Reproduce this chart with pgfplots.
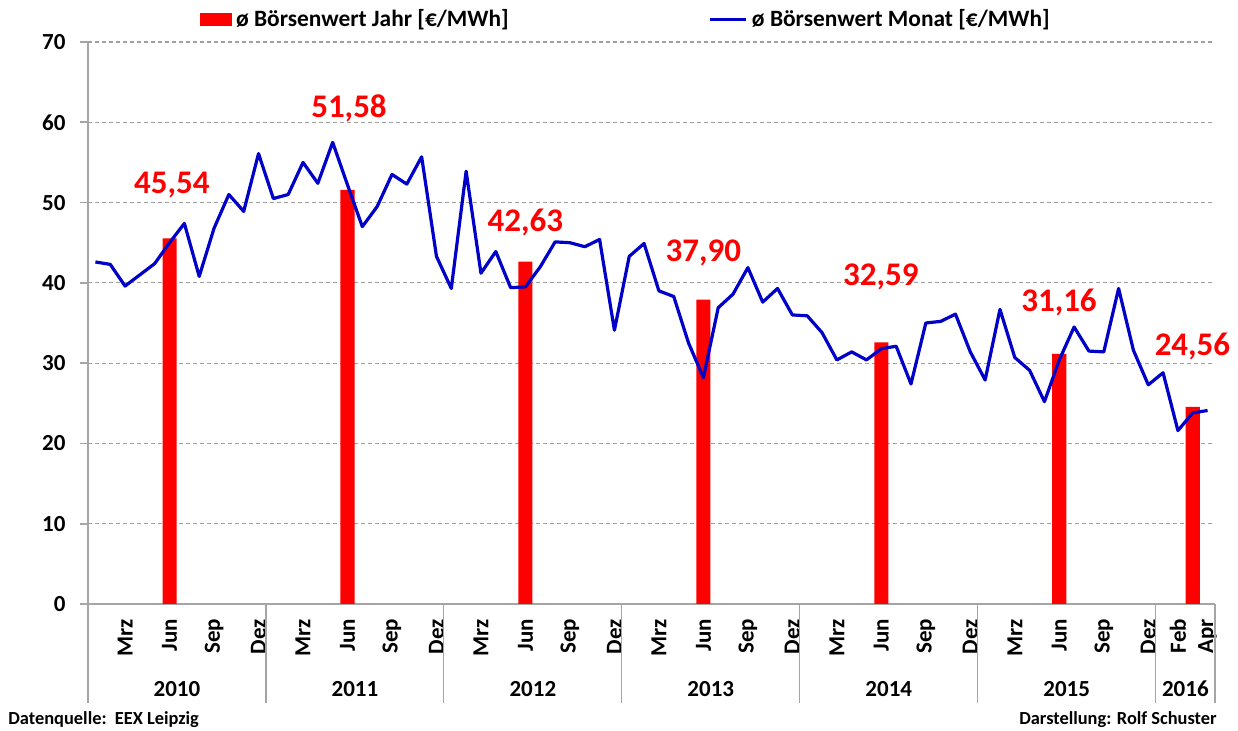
\documentclass[border=0pt]{standalone}
\usepackage{fontspec}
\setmainfont{Carlito}
\usepackage{pgfplots}
\pgfplotsset{compat=1.18}
\definecolor{lineblue}{RGB}{0,0,200}
\definecolor{barred}{RGB}{255,0,0}
\definecolor{gridgray}{RGB}{160,160,160}
\definecolor{axisgray}{RGB}{165,165,165}
\begin{document}
\begin{tikzpicture}
\path (-44pt,-63.5pt) rectangle (575pt,302pt);
\begin{axis}[
  at={(0,0)}, anchor=south west,
  scale only axis, width=563.5pt, height=281pt,
  xmin=-0.5, xmax=75.5, ymin=0, ymax=70,
  clip=false,
  axis x line*=bottom, axis y line*=left,
  axis line style={axisgray, line width=0.8pt},
  ytick={0,10,...,70},
  ymajorgrids,
  major grid style={gridgray, dash pattern=on 2pt off 1.5pt, line width=0.6pt},
  tick align=outside, major tick length=4pt,
  ytick style={axisgray, line width=0.8pt},
  xtick style={draw=none},
  /pgf/number format/assume math mode=true,
  yticklabel style={font=\fontsize{11.5}{12}\selectfont\bfseries, xshift=-3.7pt},
  xtick={2,5,8,11,14,17,20,23,26,29,32,35,38,41,44,47,50,53,56,59,62,65,68,71,73,75},
  xticklabels={Mrz,Jun,Sep,Dez,Mrz,Jun,Sep,Dez,Mrz,Jun,Sep,Dez,Mrz,Jun,Sep,Dez,Mrz,Jun,Sep,Dez,Mrz,Jun,Sep,Dez,Feb,Apr},
  xticklabel style={rotate=90, anchor=east, font=\fontsize{11.5}{12}\selectfont\bfseries},
  extra x ticks={-0.5,11.5,23.5,35.5,47.5,59.5,71.5,75.5},
  extra x tick labels={},
  extra x tick style={major tick length=49.5pt, xtick style={draw=axisgray, line width=0.6pt}},
  legend columns=2,
  legend style={at={(0.0994,1.0399)}, anchor=west, draw=none, fill=none, inner sep=0pt,
    font=\fontsize{11.7}{13}\selectfont\bfseries,
    /tikz/every even column/.append style={column sep=98pt}},
  legend cell align=left,
]
\addplot[ybar, bar width=0.95, fill=barred, draw=none,
  legend image code/.code={\fill[barred] (0pt,-3.2pt) rectangle (15.8pt,3.2pt);}]
  coordinates {(5,45.54) (17,51.58) (29,42.63) (41,37.90) (53,32.59) (65,31.16) (74,24.56)};
\addlegendentry{ø Börsenwert Jahr [€/MWh]}
\addplot[lineblue, line width=1.6pt, mark=none, line join=round,
  legend image code/.code={\draw[lineblue, line width=1.6pt] (0pt,0pt) -- (18pt,0pt);}]
  coordinates {
  (0,42.6) (1,42.3) (2,39.6) (3,41.0) (4,42.4) (5,45.0) (6,47.4) (7,40.8) (8,46.8) (9,51.0) (10,48.9) (11,56.1)
  (12,50.5) (13,51.0) (14,55.0) (15,52.4) (16,57.5) (17,52.2) (18,47.0) (19,49.5) (20,53.5) (21,52.3) (22,55.7) (23,43.3)
  (24,39.3) (25,53.9) (26,41.2) (27,43.9) (28,39.4) (29,39.5) (30,42.0) (31,45.1) (32,45.0) (33,44.5) (34,45.4) (35,34.1)
  (36,43.3) (37,44.9) (38,39.0) (39,38.3) (40,32.5) (41,28.2) (42,36.9) (43,38.6) (44,41.9) (45,37.6) (46,39.3) (47,36.0)
  (48,35.9) (49,33.8) (50,30.4) (51,31.4) (52,30.4) (53,31.8) (54,32.1) (55,27.4) (56,35.0) (57,35.2) (58,36.1) (59,31.4)
  (60,27.9) (61,36.7) (62,30.7) (63,29.1) (64,25.2) (65,30.4) (66,34.5) (67,31.5) (68,31.4) (69,39.3) (70,31.6) (71,27.3)
  (72,28.8) (73,21.6) (74,23.8) (75,24.1)
  };
\addlegendentry{ø Börsenwert Monat [€/MWh]}
\begin{scope}[every node/.style={anchor=base, text=barred, font=\fontsize{16.5}{18}\selectfont\bfseries}]
\node at (axis cs:5.16,51.1) {45,54};
\node at (axis cs:17.1,60.6) {51,58};
\node at (axis cs:29.0,46.4) {42,63};
\node at (axis cs:41.0,42.6) {37,90};
\node at (axis cs:52.96,39.7) {32,59};
\node at (axis cs:64.98,36.4) {31,16};
\node at (axis cs:73.98,31.0) {24,56};
\end{scope}
\begin{scope}[every node/.style={anchor=base, font=\fontsize{11.5}{12}\selectfont\bfseries}]
\node at (axis cs:5.5,0) [yshift=-46.3pt] {2010};
\node at (axis cs:17.5,0) [yshift=-46.3pt] {2011};
\node at (axis cs:29.5,0) [yshift=-46.3pt] {2012};
\node at (axis cs:41.5,0) [yshift=-46.3pt] {2013};
\node at (axis cs:53.5,0) [yshift=-46.3pt] {2014};
\node at (axis cs:65.5,0) [yshift=-46.3pt] {2015};
\node at (axis cs:73.5,0) [yshift=-46.3pt] {2016};
\end{scope}
\end{axis}
\node[anchor=base west, inner sep=0pt, font=\fontsize{9.2}{11}\selectfont\bfseries] at (-40pt,-60.5pt) {Datenquelle:\ \ EEX Leipzig};
\node[anchor=base east, inner sep=0pt, font=\fontsize{9.2}{11}\selectfont\bfseries] at (564.5pt,-60.5pt) {Darstellung: Rolf Schuster};
\end{tikzpicture}
\end{document}
